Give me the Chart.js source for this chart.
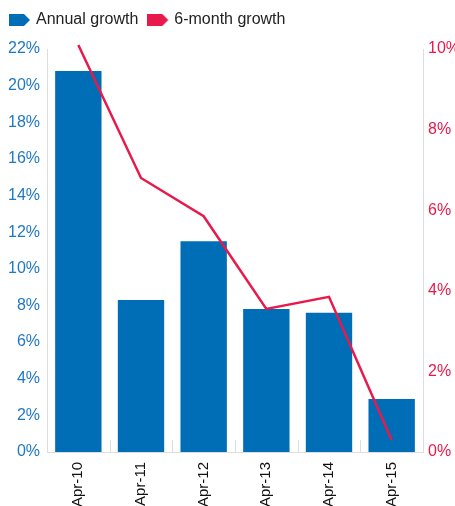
<!DOCTYPE html>
<html lang="en">

<head>
    <meta charset="UTF-8">
    <title>Annual and 6-month growth</title>
    <script src="https://cdn.jsdelivr.net/npm/chart.js"></script>
    <style>
        html, body { margin: 0; padding: 0; background: #fff; }
        #wrap { width: 455px; height: 506px; }
    </style>
</head>

<body>
    <div id="wrap"><canvas id="growthChart" width="455" height="506"></canvas></div>

    <script>
        // chart data
        var categories = ['Apr-10', 'Apr-11', 'Apr-12', 'Apr-13', 'Apr-14', 'Apr-15'];
        var annualGrowth = [20.8, 8.3, 11.5, 7.8, 7.6, 2.9];
        var sixMonthGrowth = [10.1, 6.8, 5.85, 3.55, 3.85, 0.3];
        var seriesNames = ['Annual growth', '6-month growth'];

        var blue = '#006eb6';
        var red = '#e8194b';

        // tag shaped legend marker
        function tagMarker(color) {
            var c = document.createElement('canvas');
            c.width = 22; c.height = 14;
            var g = c.getContext('2d');
            g.fillStyle = color;
            g.beginPath();
            g.moveTo(0, 1);
            g.lineTo(15, 1);
            g.lineTo(21, 7);
            g.lineTo(15, 13);
            g.lineTo(0, 13);
            g.closePath();
            g.fill();
            return c;
        }

        // short inward ticks between the categories
        var catTicks = {
            id: 'catTicks',
            afterDatasetsDraw: function (chart) {
                var x = chart.scales.x;
                var bottom = chart.chartArea.bottom;
                var ctx = chart.ctx;
                ctx.save();
                ctx.strokeStyle = '#dddddd';
                ctx.lineWidth = 1;
                for (var i = 1; i < categories.length; i++) {
                    var px = Math.round(x.getPixelForValue(i - 0.5)) + 0.5;
                    ctx.beginPath();
                    ctx.moveTo(px, bottom);
                    ctx.lineTo(px, bottom - 12);
                    ctx.stroke();
                }
                ctx.restore();
            }
        };

        // a bit more room under the legend
        var legendGap = {
            id: 'legendGap',
            beforeInit: function (chart) {
                var fit = chart.legend.fit;
                chart.legend.fit = function () {
                    fit.bind(chart.legend)();
                    this.height += 11;
                };
            }
        };

        Chart.defaults.font.family = '"Liberation Sans", Arial, sans-serif';

        var ctx = document.getElementById('growthChart').getContext('2d');
        var myChart = new Chart(ctx, {
            type: 'bar',
            data: {
                labels: categories,
                datasets: [{
                    label: seriesNames[0],
                    data: annualGrowth,
                    backgroundColor: blue,
                    yAxisID: 'y',
                    categoryPercentage: 0.74,
                    barPercentage: 1,
                    pointStyle: tagMarker(blue),
                    order: 1
                }, {
                    type: 'line',
                    label: seriesNames[1],
                    data: sixMonthGrowth,
                    borderColor: red,
                    backgroundColor: red,
                    borderWidth: 2.5,
                    pointRadius: 0,
                    tension: 0,
                    clip: false,
                    yAxisID: 'y1',
                    pointStyle: tagMarker(red),
                    order: 0
                }]
            },
            options: {
                responsive: false,
                animation: false,
                layout: { padding: 0 },
                plugins: {
                    legend: {
                        align: 'start',
                        reverse: true,
                        labels: {
                            usePointStyle: true,
                            color: '#222',
                            font: { size: 16 },
                            padding: 12
                        }
                    },
                    tooltip: { enabled: false }
                },
                scales: {
                    x: {
                        grid: { display: false, drawTicks: false },
                        border: { color: '#dddddd' },
                        afterFit: function (scale) { scale.height = 54; },
                        ticks: {
                            color: '#111',
                            font: { size: 15 },
                            maxRotation: 90,
                            minRotation: 90,
                            padding: 10
                        }
                    },
                    y: {
                        position: 'left',
                        min: 0,
                        max: 22,
                        grid: { display: false, drawTicks: false },
                        border: { color: '#dddddd' },
                        afterFit: function (scale) { scale.width = 47; },
                        ticks: {
                            stepSize: 2,
                            color: '#1f78c1',
                            font: { size: 16 },
                            padding: 7,
                            callback: function (v) { return v + '%'; }
                        }
                    },
                    y1: {
                        position: 'right',
                        min: 0,
                        max: 10,
                        grid: { display: false, drawTicks: false },
                        border: { color: '#dddddd' },
                        afterFit: function (scale) { scale.width = 32; },
                        ticks: {
                            stepSize: 2,
                            color: red,
                            font: { size: 16 },
                            padding: 5,
                            callback: function (v) { return v + '%'; }
                        }
                    }
                }
            },
            plugins: [catTicks, legendGap]
        });
    </script>

</body>

</html>
